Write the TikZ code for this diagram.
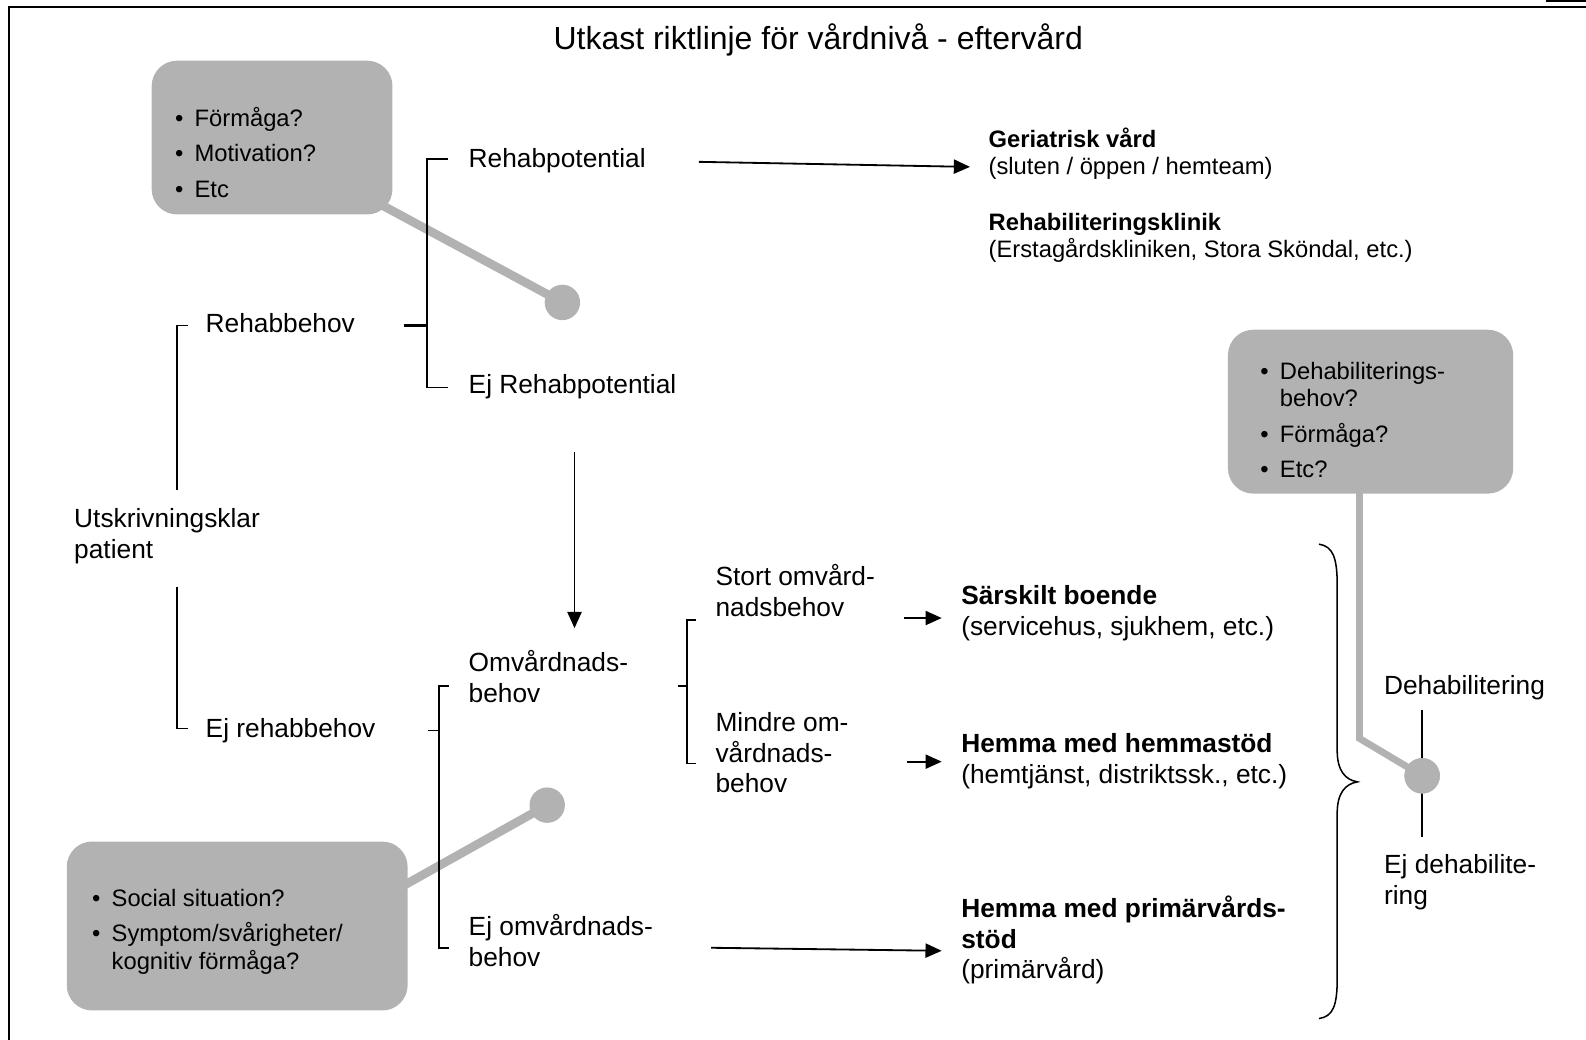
\documentclass[tikz,border=0pt]{standalone}
\usepackage{fontspec}
\setmainfont{Liberation Sans}
\usetikzlibrary{arrows.meta}
\definecolor{boxgray}{HTML}{B2B2B2}
\newcommand{\bul}{\llap{•\hspace{5.5pt}}}
\newcommand{\mlines}[1]{\begin{tabular}[t]{@{}l@{}}#1\end{tabular}}

\begin{document}
\begin{tikzpicture}[x=0.5pt,y=-0.5pt,
  lbl/.style={anchor=base west, inner sep=0pt, font=\fontsize{13}{15.2}\selectfont},
  sml/.style={anchor=base west, inner sep=0pt, font=\fontsize{11.75}{13.5}\selectfont},
  gbox/.style={fill=boxgray, rounded corners=12.5pt, inner sep=0pt},
  gdot/.style={circle, fill=boxgray, minimum size=17.5pt, inner sep=0pt},
  gline/.style={draw=boxgray, line width=4.3pt},
  brk/.style={line width=0.75pt},
  arr/.style={line width=0.9pt, -{Triangle[length=8pt,width=7pt]}},
]
\useasboundingbox (0,0) rectangle (1568,1028);

% frame
\draw[line width=1.3pt] (9,1028) -- (9,7) -- (1568,7);
\draw[line width=1pt] (1528,0.8) -- (1568,0.8);

% title
\node[lbl, anchor=base, font=\fontsize{15.8}{18}\selectfont] (title) at (809,49)
  {Utkast riktlinje för vårdnivå - eftervård};

% ---- grey question boxes with their pointers ----
\coordinate (tlin) at (300,161);
\node[gdot] (d1) at (556,299) {};
\draw[gline] (tlin) -- (d1.center);
\node[gbox, minimum width=119pt, minimum height=76pt] (b1) at (269,136) {};
\node[sml] (q1) at (192,125) {\mlines{\bul Förmåga?\\[4pt]\bul Motivation?\\[4pt]\bul Etc}};

\coordinate (blin) at (350,903);
\node[gdot] (d2) at (541,796) {};
\draw[gline] (blin) -- (d2.center);
\node[gbox, minimum width=168.5pt, minimum height=83.5pt] (b3) at (234.5,915.5) {};
\node[sml] (q3) at (110,896) {\mlines{\bul Social situation?\\[4pt]\bul Symptom/svårigheter/\\kognitiv förmåga?}};

% dehabilitation split
\draw[brk] (1406,702) -- (1406,827);
\coordinate (rout) at (1344,480);
\coordinate (rbend) at (1344,730);
\node[gdot] (d3) at (1406,767) {};
\draw[gline, line width=3.4pt] (rout) -- (rbend) -- (d3.center);
\node[gdot] at (d3) {};
\node[gbox, minimum width=141pt, minimum height=81pt] (b2) at (1355,407) {};
\node[sml] (q2) at (1265,375) {\mlines{\bul Dehabiliterings-\\behov?\\[4pt]\bul Förmåga?\\[4pt]\bul Etc?}};

% ---- decision labels ----
\node[lbl] (ut)  at (73,522)   {\mlines{Utskrivningsklar\\patient}};
\node[lbl] (rb)  at (203,329)  {Rehabbehov};
\node[lbl] (erb) at (203,729)  {Ej rehabbehov};
\node[lbl] (rp)  at (463,166)  {Rehabpotential};
\node[lbl] (erp) at (463,389)  {Ej Rehabpotential};
\node[lbl] (ov)  at (463,664)  {\mlines{Omvårdnads-\\behov}};
\node[lbl] (eov) at (463,925)  {\mlines{Ej omvårdnads-\\behov}};
\node[lbl] (st)  at (707,579)  {\mlines{Stort omvård-\\nadsbehov}};
\node[lbl] (mi)  at (707,723)  {\mlines{Mindre om-\\vårdnads-\\behov}};
\node[lbl] (dh)  at (1368,687) {Dehabilitering};
\node[lbl] (edh) at (1368,864) {\mlines{Ej dehabilite-\\ring}};

% ---- outcomes ----
\node[sml] (ge) at (977,146) {\mlines{\textbf{Geriatrisk vård}\\(sluten / öppen / hemteam)}};
\node[sml] (rk) at (977,228) {\mlines{\textbf{Rehabiliteringsklinik}\\(Erstagårdskliniken, Stora Sköndal, etc.)}};
\node[lbl] (sb) at (950,598) {\mlines{\textbf{Särskilt boende}\\(servicehus, sjukhem, etc.)}};
\node[lbl] (hh) at (950,744) {\mlines{\textbf{Hemma med hemmastöd}\\(hemtjänst, distriktssk., etc.)}};
\node[lbl] (hp) at (950,907) {\mlines{\textbf{Hemma med primärvårds-}\\\textbf{stöd}\\(primärvård)}};

% ---- brackets ----
\draw[brk] (186,322) -- (175,322) -- (175,484);
\draw[brk] (175,580) -- (175,720) -- (186,720);
\draw[brk] (443,157) -- (422,157) -- (422,383) -- (443,383);
\draw[line width=1.5pt] (399,322) -- (422,322);
\draw[brk] (444,678) -- (434,678) -- (434,937) -- (444,937);
\draw[brk] (423,722) -- (434,722);
\draw[brk] (688,613) -- (679,613) -- (679,755) -- (688,755);
\draw[brk] (670,678) -- (679,678);

% big brace gathering the care levels
\draw[brk] (1304,538) .. controls (1318,540) and (1322,552) .. (1322,578)
  -- (1322,742) .. controls (1322,762) and (1330,771) .. (1342,773)
  .. controls (1330,775) and (1322,784) .. (1322,804)
  -- (1322,968) .. controls (1322,994) and (1318,1005) .. (1304,1007);

% ---- arrows ----
\coordinate (a1s) at (691,160);
\coordinate (a1e) at (959,165);
\draw[arr] (a1s) -- (a1e);
\coordinate (a2s) at (568,447);
\coordinate (a2e) at (568,621);
\draw[arr] (a2s) -- (a2e);
\coordinate (a3s) at (894,611);
\coordinate (a3e) at (931,611);
\draw[arr] (a3s) -- (a3e);
\coordinate (a4s) at (897,753);
\coordinate (a4e) at (931,753);
\draw[arr] (a4s) -- (a4e);
\coordinate (a5s) at (703,937);
\coordinate (a5e) at (931,940);
\draw[arr] (a5s) -- (a5e);
\end{tikzpicture}
\end{document}
